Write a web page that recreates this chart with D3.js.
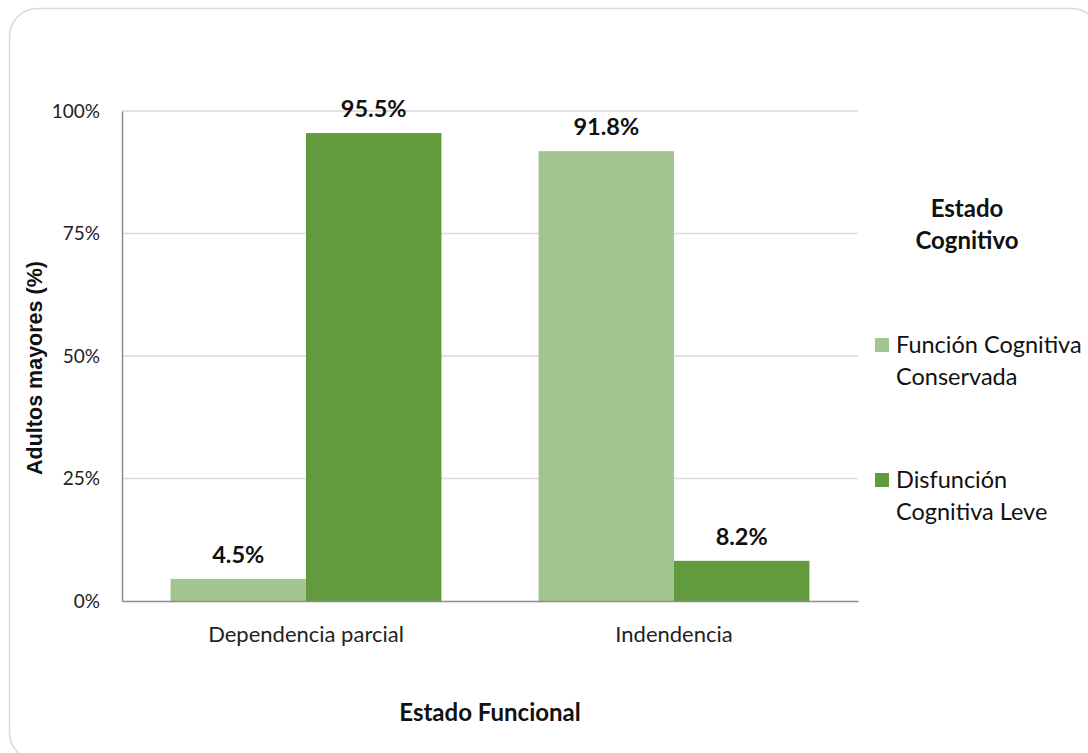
<!DOCTYPE html>
<html>
<head>
<meta charset="utf-8">
<script src="https://cdn.jsdelivr.net/npm/d3@7"></script>
<style>
  html, body { margin: 0; padding: 0; background: #fff; }
  svg { display: block; }
</style>
</head>
<body>
<svg id="chart" width="1088" height="753"></svg>
<script>
// Functional status categories (x axis)
const categories = ["Dependencia parcial", "Indendencia"];
// Cognitive status series
const seriesNames = ["Función Cognitiva Conservada", "Disfunción Cognitiva Leve"];
const seriesLegendLines = [["Función Cognitiva", "Conservada"], ["Disfunción", "Cognitiva Leve"]];
// Percentages per category, one array per series
const conservada = [4.5, 91.8];
const leve = [95.5, 8.2];
const yTicks = [0, 25, 50, 75, 100];

const colors = ["#a3c591", "#629a3e"];
const seriesValues = [conservada, leve];

const svg = d3.select("#chart");
const W = 1088, H = 753;
const margin = { left: 122, right: 230, top: 111, bottom: 152 };
const plotW = W - margin.left - margin.right;
const plotH = H - margin.top - margin.bottom;
const FONT = "Lato, 'Open Sans', sans-serif";

// Outer chart frame
svg.append("rect")
  .attr("x", 9.5).attr("y", 8.5)
  .attr("width", 1090).attr("height", 752)
  .attr("rx", 28).attr("ry", 28)
  .attr("fill", "#fff")
  .attr("stroke", "#d9d9d9")
  .attr("stroke-width", 1.5);

const g = svg.append("g").attr("transform", `translate(${margin.left},${margin.top})`);

const x0 = d3.scaleBand().domain(categories).range([0, plotW])
  .paddingInner(0.264).paddingOuter(0.132);
const x1 = d3.scaleBand().domain(d3.range(seriesNames.length)).range([0, x0.bandwidth()]);
const y = d3.scaleLinear().domain([0, 100]).range([plotH, 0]);

// Horizontal gridlines
g.append("g")
  .selectAll("line")
  .data(yTicks.filter(t => t > 0))
  .join("line")
  .attr("x1", 0).attr("x2", plotW)
  .attr("y1", d => y(d)).attr("y2", d => y(d))
  .attr("stroke", "#d9d9d9").attr("stroke-width", 1.5);

// Y axis
const yAxis = g.append("g")
  .call(d3.axisLeft(y).tickValues(yTicks).tickFormat(d => d + "%").tickSize(0).tickPadding(22));
yAxis.select(".domain").attr("stroke", "#8c8c8c").attr("stroke-width", 1.5);
yAxis.selectAll("text")
  .attr("font-family", FONT)
  .attr("font-size", 19)
  .attr("fill", "#222");

// Bars
const groups = g.append("g").selectAll("g")
  .data(categories)
  .join("g")
  .attr("transform", d => `translate(${x0(d)},0)`);

groups.selectAll("rect")
  .data((c, ci) => seriesValues.map((vals, si) => ({ si, v: vals[ci] })))
  .join("rect")
  .attr("x", d => x1(d.si))
  .attr("width", x1.bandwidth())
  .attr("y", d => y(d.v))
  .attr("height", d => plotH - y(d.v))
  .attr("fill", d => colors[d.si]);

// Value labels
groups.selectAll("text.val")
  .data((c, ci) => seriesValues.map((vals, si) => ({ si, v: vals[ci] })))
  .join("text")
  .attr("class", "val")
  .attr("x", d => x1(d.si) + x1.bandwidth() / 2)
  .attr("y", d => y(d.v) - 16)
  .attr("text-anchor", "middle")
  .attr("font-family", FONT)
  .attr("font-weight", "bold")
  .attr("font-size", 23.5)
  .attr("fill", "#111")
  .text(d => d.v.toFixed(1) + "%");

// X axis
const xAxis = g.append("g")
  .attr("transform", `translate(0,${plotH})`)
  .call(d3.axisBottom(x0).tickSize(0).tickPadding(25));
xAxis.select(".domain").attr("stroke", "#8c8c8c").attr("stroke-width", 1.5);
xAxis.selectAll("text")
  .attr("font-family", FONT)
  .attr("font-size", 22)
  .attr("fill", "#222");

// Axis titles
svg.append("text")
  .attr("transform", `translate(42,${margin.top + plotH / 2 + 12}) rotate(-90)`)
  .attr("text-anchor", "middle")
  .attr("font-family", "'Liberation Sans', Arial, sans-serif")
  .attr("font-weight", "bold")
  .attr("font-size", 21.5)
  .attr("fill", "#111")
  .text("Adultos mayores (%)");

svg.append("text")
  .attr("x", margin.left + plotW / 2)
  .attr("y", 721)
  .attr("text-anchor", "middle")
  .attr("font-family", FONT)
  .attr("font-weight", "bold")
  .attr("font-size", 24)
  .attr("fill", "#111")
  .text("Estado Funcional");

// Legend
const legend = svg.append("g");
legend.append("text")
  .attr("x", 967).attr("y", 217)
  .attr("text-anchor", "middle")
  .attr("font-family", FONT)
  .attr("font-weight", "bold")
  .attr("font-size", 24)
  .attr("fill", "#111")
  .selectAll("tspan")
  .data(["Estado", "Cognitivo"])
  .join("tspan")
  .attr("x", 967)
  .attr("dy", (d, i) => i === 0 ? 0 : 32)
  .text(d => d);

const itemY = [338, 473];
const items = legend.selectAll("g.item")
  .data(seriesNames)
  .join("g")
  .attr("class", "item")
  .attr("transform", (d, i) => `translate(875,${itemY[i]})`);
items.append("rect")
  .attr("width", 14).attr("height", 14)
  .attr("fill", (d, i) => colors[i]);
items.append("text")
  .attr("font-family", FONT)
  .attr("font-size", 23.5)
  .attr("fill", "#111")
  .selectAll("tspan")
  .data((d, i) => seriesLegendLines[i])
  .join("tspan")
  .attr("x", 21)
  .attr("y", (d, i) => 15 + i * 32)
  .text(d => d);
</script>
</body>
</html>
